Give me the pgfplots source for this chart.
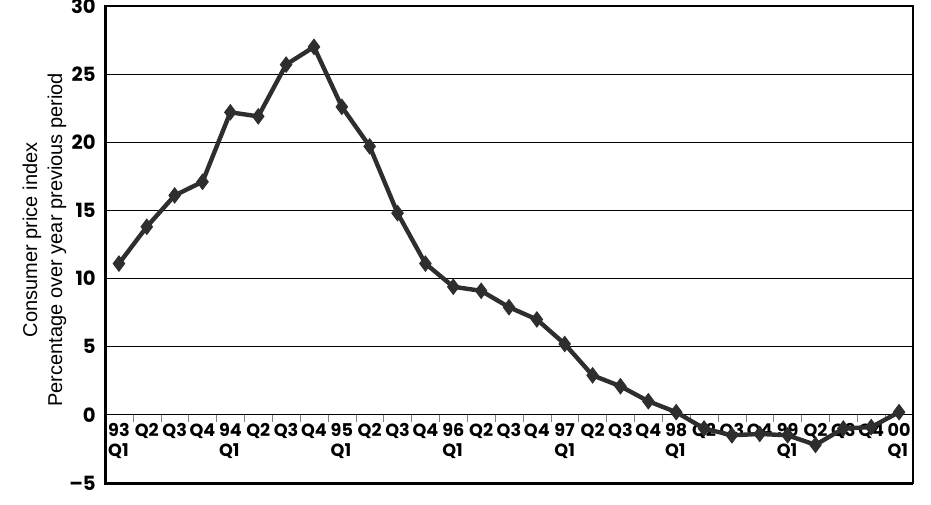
\documentclass[border=0pt]{standalone}
\usepackage{fontspec}
\setmainfont{Liberation Sans}
\newfontfamily\tickfont{Poppins}
\usepackage{pgfplots}
\pgfplotsset{compat=1.18}
\usetikzlibrary{calc}

\definecolor{linegray}{HTML}{2E2E2E}

\begin{document}
\begin{tikzpicture}
\begin{axis}[
    name=ax,
    scale only axis,
    width=404pt, height=238.5pt,
    xmin=-0.5, xmax=28.5,
    ymin=-5, ymax=30,
    axis x line=middle,
    axis y line=left,
    axis line style={-, line width=0.6pt},
    xtick={0,...,28},
    xticklabels={{93\\Q1},Q2,Q3,Q4,{94\\Q1},Q2,Q3,Q4,{95\\Q1},Q2,Q3,Q4,{96\\Q1},Q2,Q3,Q4,
                 {97\\Q1},Q2,Q3,Q4,{98\\Q1},Q2,Q3,Q4,{99\\Q1},Q2,Q3,Q4,{00\\Q1}},
    major x tick style={draw=none},
    minor xtick={0.5,1.5,...,27.5},
    minor tick length=3.5pt,
    xtick align=outside,
    xticklabel style={align=left, font=\tickfont\bfseries\fontsize{8.8}{10}\selectfont,
        anchor=north, yshift=1pt, inner sep=1pt},
    ytick={-5,0,...,30},
    yticklabels={–5,0,5,10,15,20,25,30},
    major y tick style={draw=none},
    yticklabel style={font=\tickfont\bfseries\fontsize{9.8}{10}\selectfont, xshift=1pt},
    ymajorgrids,
    grid style={black, line width=0.5pt},
    ylabel={Consumer price index\\Percentage over year previous period},
    ylabel style={align=center, font=\fontsize{10}{12.5}\selectfont,
        at={(axis description cs:-0.075,0.51)}, anchor=center, rotate=0},
    clip=false,
]
\addplot[linegray, line width=2.2pt, mark=diamond*, mark size=3.8pt,
         mark options={fill=linegray, draw=linegray, line width=0.5pt}]
coordinates {
(0,11.1) (1,13.8) (2,16.1) (3,17.1)
(4,22.2) (5,21.9) (6,25.7) (7,27.0)
(8,22.6) (9,19.7) (10,14.8) (11,11.1)
(12,9.4) (13,9.1) (14,7.9) (15,7.0)
(16,5.2) (17,2.9) (18,2.1) (19,1.0)
(20,0.2) (21,-1.0) (22,-1.5) (23,-1.4)
(24,-1.5) (25,-2.2) (26,-1.0) (27,-0.9)
(28,0.2)
};
\draw[black, line width=1pt] (rel axis cs:0,0) rectangle (rel axis cs:1,1);
\draw[black, line width=1.5pt] (rel axis cs:0,1) -- (rel axis cs:0,0) -- (rel axis cs:1,0);
\end{axis}
\pgfresetboundingbox
\path[use as bounding box] ($(ax.south west)+(-52.5pt,-10.5pt)$) rectangle ($(ax.north east)+(9pt,3pt)$);
\end{tikzpicture}
\end{document}
